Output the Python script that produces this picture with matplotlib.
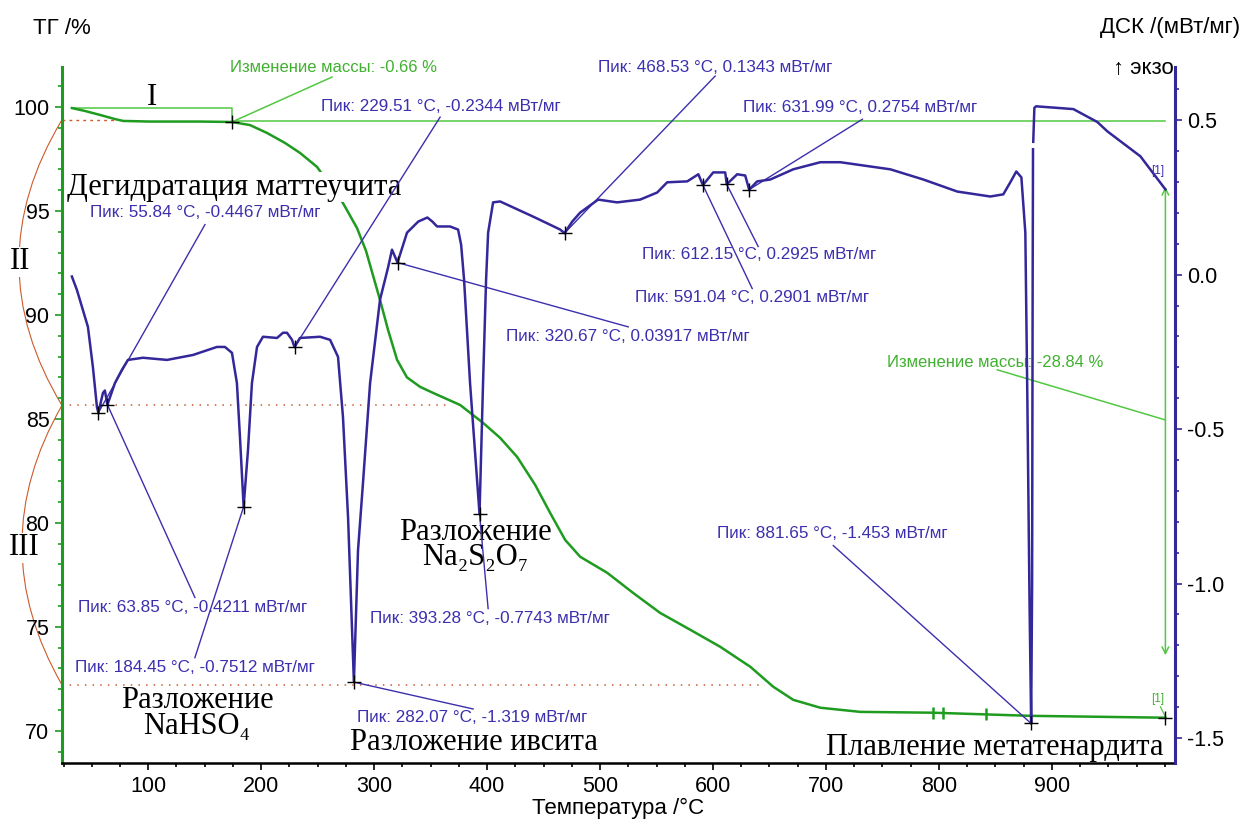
import numpy as np
import matplotlib.pyplot as plt
from matplotlib.path import Path
from matplotlib.patches import PathPatch
from matplotlib.ticker import MultipleLocator

plt.rcParams['font.family'] = ['Liberation Sans', 'DejaVu Sans']
plt.rcParams['axes.unicode_minus'] = False
SERIF = ['Liberation Serif', 'DejaVu Serif']

# ТГ кривая
tg_temp = [32.4, 43.9, 57.2, 70.5, 77.7, 101.6, 145.9, 174.1, 190.1, 205.2, 221.1,
           234.4, 249.4, 260.9, 272.4, 284.8, 292.8, 305.2, 312.3, 320.3, 329.0,
           340.7, 352.2, 376.1, 396.4, 411.5, 426.6, 442.5, 455.8, 469.1, 482.4,
           506.3, 529.3, 553.2, 579.8, 606.4, 633.0, 653.3, 671.0, 695.0, 730.4,
           795.0, 881.0, 1000.5]
tg_mass = [99.95, 99.81, 99.62, 99.42, 99.33, 99.30, 99.30, 99.28, 99.13, 98.75, 98.27,
           97.79, 97.12, 96.25, 95.38, 94.18, 93.08, 90.72, 89.28, 87.84, 87.00,
           86.54, 86.25, 85.67, 84.81, 84.09, 83.17, 81.83, 80.48, 79.18, 78.37,
           77.60, 76.63, 75.67, 74.86, 74.04, 73.08, 72.12, 71.49, 71.11, 70.91,
           70.87, 70.72, 70.63]

# ДСК кривая
dsc_temp = [32.4, 36.8, 46.6, 51.0, 54.6, 55.84, 59.9, 61.6, 63.85, 70.5, 76.7, 82.0,
            95.3, 116.6, 139.6, 160.8, 167.9, 174.1, 178.5, 181.2, 184.45, 188.3,
            191.8, 196.3, 201.6, 214.0, 219.3, 222.8, 227.3, 229.51, 234.3, 252.1,
            261.0, 268.0, 272.4, 276.9, 282.07, 285.7, 290.1, 296.4, 305.2, 312.3,
            315.8, 320.67, 329.1, 339.1, 347.1, 351.5, 355.7, 367.2, 374.3, 377.0,
            379.6, 384.9, 393.28, 396.4, 399.1, 400.9, 405.3, 411.5, 440.7, 464.7,
            468.53, 475.4, 482.4, 498.3, 515.1, 535.5, 550.6, 559.4, 577.2, 587.0,
            591.04, 600.2, 610.8, 612.15, 621.4, 628.5, 631.99, 639.1, 650.7, 671.0,
            695.0, 712.7, 757.0, 786.2, 816.3, 845.5, 857.0, 863.2, 868.5, 873.0,
            876.5, 878.3, 880.2, 881.65, 882.5, 883.0, 883.3, 883.4, 883.5, 884.5,
            886.0, 919.0, 940.3, 949.1, 978.4, 1000.5]
dsc_val = [-0.006, -0.049, -0.169, -0.299, -0.429, -0.4467, -0.383, -0.375, -0.4211,
           -0.351, -0.308, -0.276, -0.269, -0.276, -0.260, -0.234, -0.234, -0.253,
           -0.351, -0.526, -0.7512, -0.568, -0.351, -0.234, -0.201, -0.205, -0.188,
           -0.188, -0.211, -0.2344, -0.205, -0.201, -0.211, -0.266, -0.461, -0.786,
           -1.319, -0.893, -0.675, -0.351, -0.081, 0.023, 0.081, 0.03917, 0.136,
           0.172, 0.185, 0.172, 0.156, 0.156, 0.146, 0.097, -0.016, -0.351, -0.7743,
           -0.351, -0.016, 0.136, 0.234, 0.237, 0.188, 0.146, 0.1343, 0.172, 0.201,
           0.243, 0.234, 0.243, 0.266, 0.299, 0.302, 0.325, 0.2901, 0.331, 0.331,
           0.2925, 0.325, 0.321, 0.2754, 0.302, 0.308, 0.341, 0.364, 0.364, 0.341,
           0.308, 0.269, 0.253, 0.260, 0.299, 0.334, 0.315, 0.136, -0.406, -1.055,
           -1.453, -1.0, 0.0, 0.406, np.nan, 0.43, 0.54, 0.545, 0.536, 0.494, 0.464,
           0.383, 0.276]

# пики ДСК
peak_temp = [55.84, 63.85, 184.45, 229.51, 282.07, 320.67, 393.28, 468.53,
             591.04, 612.15, 631.99, 881.65]
peak_val = [-0.4467, -0.4211, -0.7512, -0.2344, -1.319, 0.03917, -0.7743, 0.1343,
            0.2901, 0.2925, 0.2754, -1.453]
label_x = [48.4, 37.7, 35.1, 253.0, 284.8, 416.8, 296.4, 498.3, 531.1, 537.3, 626.7, 603.7]
label_y = [0.201, -1.078, -1.273, 0.545, -1.432, -0.201, -1.114, 0.672, -0.075, 0.065, 0.542, -0.838]
leader_x = [150.2, 141.3, 141.3, 358.4, 387.6, 524.9, 400.9, 601.9, 634.7, 640.0, 732.2, 706.5]
leader_y = [0.162, -1.045, -1.240, 0.510, -1.406, -0.169, -1.081, 0.643, -0.045, 0.091, 0.503, -0.877]

# ступени массы
mass_start = 99.28
mass_end = 70.63
ticks_on_tg = [795, 804, 842]

DSC_C = '#33279a'
BLUE_T = '#3c2fae'
TG_C = '#1f9b1f'
GREEN_L = '#52c842'
GREEN_T = '#40b030'
ORANGE = '#cc5a2a'

FS_TICK = 15.5
FS_LAB = 16
FS_PEAK = 12.3
FS_SERIF = 22

fig = plt.figure(figsize=(12.54, 8.21), dpi=100)
ax = fig.add_axes([0.0494, 0.0706, 0.8876, 0.8477])
ax2 = ax.twinx()

ax.set_xlim(23.6, 1009)
ax.set_ylim(68.45, 101.92)
ax2.set_ylim(-1.581, 0.672)

for s in ['top', 'right']:
    ax.spines[s].set_visible(False)
for s in ['top', 'left', 'bottom']:
    ax2.spines[s].set_visible(False)
ax.spines['left'].set_color(TG_C)
ax.spines['left'].set_linewidth(2.2)
ax.spines['bottom'].set_linewidth(1.8)
ax2.spines['right'].set_color(DSC_C)
ax2.spines['right'].set_linewidth(2.2)

ax.xaxis.set_major_locator(MultipleLocator(100))
ax.xaxis.set_minor_locator(MultipleLocator(25))
ax.yaxis.set_major_locator(MultipleLocator(5))
ax.yaxis.set_minor_locator(MultipleLocator(1))
ax2.yaxis.set_major_locator(MultipleLocator(0.5))
ax2.yaxis.set_minor_locator(MultipleLocator(0.1))
ax.set_xticks([100, 200, 300, 400, 500, 600, 700, 800, 900])
ax.set_yticks([70, 75, 80, 85, 90, 95, 100])

ax.tick_params(axis='x', which='major', length=5, width=1.2, labelsize=FS_TICK, pad=4)
ax.tick_params(axis='x', which='minor', length=3, width=1.2)
ax.tick_params(axis='y', which='both', color=TG_C, width=1.2, labelsize=FS_TICK, pad=4)
ax.tick_params(axis='y', which='major', length=5)
ax.tick_params(axis='y', which='minor', length=3)
ax2.tick_params(axis='y', which='both', color=DSC_C, width=1.2, labelsize=FS_TICK, pad=4)
ax2.tick_params(axis='y', which='major', length=5)
ax2.tick_params(axis='y', which='minor', length=3)

# ТГ
ax.plot(tg_temp, tg_mass, color=TG_C, lw=1.8, zorder=3)
ax.plot(ticks_on_tg, np.interp(ticks_on_tg, tg_temp, tg_mass), '|', color=TG_C,
        ms=9, mew=1.8, zorder=3)
ax.plot([32.4, 174.1, 174.1], [99.95, 99.95, 99.33], color=GREEN_L, lw=1.1)
ax.plot([174.1, 1000.5], [99.33, 99.33], color=GREEN_L, lw=1.1)
ax.annotate('', xy=(1000.5, 73.5), xytext=(1000.5, 96.3),
            arrowprops=dict(arrowstyle='<->', color=GREEN_L, lw=1.1, mutation_scale=12))
ax.plot([174.1, 1000.5], [mass_start, mass_end], '+', color='k', ms=10, mew=1, zorder=5)

ax.text(172.5, 101.88, 'Изменение массы: -0.66 %', color=GREEN_T, fontsize=12, va='center')
ax.plot([174.1, 262.7], [99.28, 101.44], color=GREEN_L, lw=1.1)
ax.text(754.3, 87.69, 'Изменение массы: -28.84 %', color=GREEN_T, fontsize=12, va='center')
ax.plot([1000.5, 851.7], [84.95, 87.36], color=GREEN_L, lw=1.1)
ax.text(993.5, 71.55, '[1]', color=GREEN_T, fontsize=8.5, ha='center', va='center')
ax.plot([996.1, 1000.5], [71.15, 70.67], color=GREEN_L, lw=0.9)

# уровни ступеней
ax.plot([23.6, 70.5], [99.38, 99.38], color=ORANGE, lw=1, ls=(0, (2, 3)))
ax.plot([23.6, 367], [85.65, 85.65], color=ORANGE, lw=1.1, ls=(0, (1, 4)))
ax.plot([23.6, 646], [72.21, 72.21], color=ORANGE, lw=1.1, ls=(0, (1, 4)))

ytr = ax.get_yaxis_transform()
for y0, xc, y1 in [(99.38, -0.0773, 85.65), (85.65, -0.0719, 72.21)]:
    brace = Path([(0, y0), (xc, (y0 + y1) / 2), (0, y1)],
                 [Path.MOVETO, Path.CURVE3, Path.CURVE3])
    ax.add_patch(PathPatch(brace, transform=ytr, fill=False, ec=ORANGE, lw=0.8,
                           clip_on=False, zorder=1))

ax.text(103.3, 100.48, 'I', family=SERIF, fontsize=FS_SERIF, ha='center', va='center')
ax.text(-0.0377, 92.55, 'II', transform=ytr, family=SERIF, fontsize=FS_SERIF, ha='center',
        va='center', bbox=dict(fc='white', ec='none', pad=0.5), zorder=4)
ax.text(-0.0341, 78.8, 'III', transform=ytr, family=SERIF, fontsize=FS_SERIF, ha='center',
        va='center', bbox=dict(fc='white', ec='none', pad=0.5), zorder=4)

ax.text(28.0, 96.15, 'Дегидратация маттеучита', family=SERIF, fontsize=FS_SERIF, va='center',
        bbox=dict(fc='white', ec='none', pad=0.5), zorder=4)
ax.text(143.1, 70.82, 'Разложение\nNaHSO₄', family=SERIF, fontsize=FS_SERIF, ha='center',
        va='center', multialignment='center', linespacing=0.85)
ax.text(278.6, 69.42, 'Разложение ивсита', family=SERIF, fontsize=FS_SERIF, va='center')
ax.text(389.4, 78.94, 'Разложение\nNa₂S₂O₇', family=SERIF, fontsize=FS_SERIF, ha='center',
        va='center', multialignment='center', linespacing=0.8)
ax.text(998.7, 69.18, 'Плавление метатенардита', family=SERIF, fontsize=FS_SERIF, ha='right',
        va='center')

# ДСК
ax2.plot(dsc_temp, dsc_val, color=DSC_C, lw=1.8, zorder=3)
for t, v, lx, ly, ex, ey in zip(peak_temp, peak_val, label_x, label_y, leader_x, leader_y):
    ax2.plot([t, ex], [v, ey], color=BLUE_T, lw=1.0, zorder=2)
    ax2.text(lx, ly, f'Пик: {t:.2f} °C, {v:.4g} мВт/мг', color=BLUE_T, fontsize=FS_PEAK,
             va='center', zorder=4)
ax2.plot(peak_temp, peak_val, '+', color='k', ms=10, mew=1, zorder=5)
ax2.text(993.5, 0.334, '[1]', color=BLUE_T, fontsize=8.5, ha='center', va='center')

fig.text(33 / 1254, 1 - 28 / 821, 'ТГ /%', fontsize=FS_LAB, va='center')
fig.text(1100 / 1254, 1 - 28 / 821, 'ДСК /(мВт/мг)', fontsize=FS_LAB, va='center')
fig.text(1113 / 1254, 1 - 68 / 821, '↑ экзо', fontsize=FS_LAB, va='center')
fig.text(618 / 1254, 1 - 808 / 821, 'Температура /°C', fontsize=FS_LAB, ha='center', va='center')

fig.savefig('out.png', dpi=100)
